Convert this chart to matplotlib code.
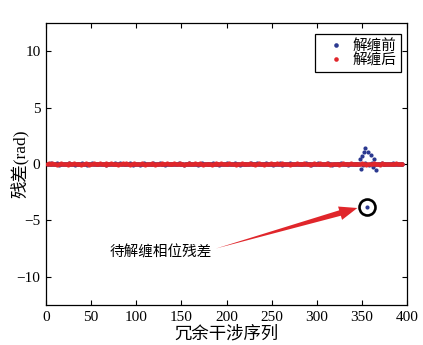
import numpy as np
import matplotlib
matplotlib.use("Agg")
import matplotlib.pyplot as plt

# residuals in units of 0.01 rad, index 1..395
red_res = [
    3,-2,5,1,-4,0,6,-3,2,-1,4,-5,1,3,-2,0,5,-4,2,-1,
    -3,4,1,-5,2,6,-1,0,3,-4,5,-2,1,-3,4,0,-1,2,-5,3,
    1,-4,3,5,-2,0,2,-6,4,1,-3,2,5,-1,0,-4,3,1,-2,6,
    -1,2,-3,4,0,5,-5,1,3,-2,-4,6,0,2,-1,3,-3,4,1,-5,
    2,0,-4,3,6,-2,1,-1,5,-3,0,4,-5,2,3,-1,-2,5,1,-4,
    4,-3,1,0,-2,5,3,-4,2,-6,1,3,-1,4,0,-2,5,-3,2,1,
    -5,3,2,-1,4,0,-3,6,1,-2,3,-4,2,5,-1,0,-3,4,2,-2,
    0,5,-2,3,-4,1,2,-1,6,-3,4,0,-5,2,1,-2,3,-1,5,-4,
    3,-1,-4,2,5,0,-2,4,1,-3,6,-1,2,-5,3,0,4,-2,1,-3,
    -2,4,3,-5,1,2,-1,5,0,-4,3,1,-3,6,-2,0,2,-1,4,-3,
    1,-3,5,0,-2,4,-4,2,3,-1,-5,3,1,4,-2,0,5,-3,2,-1,
    -4,2,0,3,-1,6,-2,1,-3,4,2,-5,0,3,-1,5,-2,1,-4,3,
    2,-5,4,1,-2,3,0,-3,5,-1,2,4,-4,1,-2,6,0,-1,3,-3,
    5,-1,2,-4,3,0,-2,4,1,-5,3,2,-1,0,4,-3,1,6,-2,-1,
    -3,1,4,-2,0,5,-4,2,3,-1,1,-5,4,0,-2,3,5,-3,1,2,
    0,-2,3,5,-3,1,-1,4,-4,2,6,-2,0,3,-5,1,2,-1,4,-3,
    4,1,-3,2,-5,3,0,-1,5,-2,1,4,-4,2,0,-3,3,6,-1,2,
    -2,3,1,-4,4,0,-1,2,-3,5,1,-2,3,0,-5,4,2,-1,3,-4,
    1,-1,5,-3,2,4,-2,0,3,-5,1,6,-1,2,-4,3,0,-2,4,1,
    -3,2,0,4,-1,3,-4,5,1,-2,2,-3,4,0,-1,
]

blue_res = [
    -2,4,0,-3,5,1,-4,2,3,-1,0,5,-2,-5,3,1,-3,4,-1,2,
    3,-1,-4,2,0,6,-2,1,-3,4,2,-5,1,3,-2,0,4,-1,-3,5,
    0,3,-2,1,-5,4,2,-1,3,-3,5,0,-4,2,1,-2,3,-1,4,-4,
    2,-3,4,0,-1,3,-5,2,1,-2,4,-1,3,-4,0,5,-2,1,2,-3,
    -1,5,-2,3,1,-4,0,4,-3,2,-1,3,5,-2,0,-5,1,4,-1,2,
    4,-2,1,-5,3,0,2,-3,5,-1,-4,2,0,3,-2,4,1,-3,6,-1,
    1,-4,3,2,-1,5,-3,0,4,-2,3,-5,1,2,-1,4,-2,0,3,-3,
    -3,2,-1,4,0,-2,5,-4,1,3,-1,2,-5,4,0,1,-3,5,-2,2,
    2,0,4,-3,1,-1,3,-5,2,4,-2,0,5,-1,-3,2,1,-4,3,-1,
    -4,3,1,-2,5,0,-1,2,-3,4,1,-5,3,-2,0,4,-1,2,-3,5,
    0,-2,3,4,-4,1,2,-1,5,-3,0,3,-2,1,-5,4,2,-1,0,3,
    3,1,-3,0,2,-4,5,-1,1,-2,4,0,-3,5,-1,2,-4,3,1,-2,
    -1,4,-2,5,-3,2,0,-4,3,1,-1,-5,4,0,2,-2,3,-3,5,1,
    2,-5,1,3,-1,4,-2,0,-3,5,2,-1,4,-4,1,3,-2,0,-1,4,
    -2,3,0,-4,2,1,-3,5,-1,0,4,-2,2,-5,3,1,-1,4,-3,0,
    5,-1,2,-3,4,0,-2,1,3,-4,-1,5,0,2,-3,4,-5,1,3,-2,
    0,3,-4,2,1,-2,5,-1,3,-3,4,0,-2,1,-5,3,2,-1,4,-3,
    2,-1,3,-4,0,4,-3,45,-45,75,-10,110,5,140,-3,-380,110,-5,0,80,
    10,-30,45,2,-3,-55,3,4,1,-3,0,5,-1,2,-4,3,1,-2,0,4,
    -3,2,-1,5,0,-2,3,-4,1,2,-1,4,-3,0,2,
]

outlier_idx = 356          # circled unwrapping residual
label_before = "解缠前"
label_after = "解缠后"
xlabel = "冗余干涉序列"
ylabel = "残差(rad)"
note = "待解缠相位残差"
xticks = [0, 50, 100, 150, 200, 250, 300, 350, 400]
yticks = [-10, -5, 0, 5, 10]

red = np.array(red_res) / 100.0
blue = np.array(blue_res) / 100.0
x_red = np.arange(1, len(red) + 1)
x_blue = np.arange(1, len(blue) + 1)

FAM = ["Liberation Serif", "Noto Sans CJK SC"]
plt.rcParams["font.family"] = FAM
plt.rcParams["axes.unicode_minus"] = True

fig = plt.figure(figsize=(4.23, 3.45), dpi=100)
ax = fig.add_axes([46/423, 1-305/345, (407-46)/423, (305-23)/345])

BLUE = "#2b3990"
RED = "#e0262b"
ax.plot(x_blue, blue, "o", ms=3.0, color=BLUE, mec="none", label=label_before, zorder=2)
ax.plot(x_red, red, "o", ms=3.0, color=RED, mec="none", label=label_after, zorder=3)

# circle around outlier
ax.plot([outlier_idx], [blue[outlier_idx - 1]], "o", ms=11.5, mfc="none", mec="black",
        mew=1.9, zorder=4)

# annotation text
ax.text(71, -7.8, note, fontsize=10.5, ha="left", va="center")
# tapered arrow shaft (thin at the text, wide at the head)
ax.annotate("", xy=(188, -7.5), xytext=(330, -4.25), xycoords="data", textcoords="data",
            arrowprops=dict(arrowstyle="wedge,tail_width=0.42,shrink_factor=0.5",
                            color=RED, shrinkA=0, shrinkB=0, lw=0))
# arrow head
ax.annotate("", xy=(345, -3.9), xytext=(318, -4.55), xycoords="data", textcoords="data",
            arrowprops=dict(arrowstyle="simple,head_length=1.3,head_width=1.0,tail_width=0.01",
                            color=RED, shrinkA=0, shrinkB=0, lw=0))

ax.set_xlim(0, 400)
ax.set_ylim(-12.5, 12.5)
ax.set_xticks(xticks)
ax.set_yticks(yticks)
ax.tick_params(direction="in", length=3.5, width=0.8, top=True, right=True, labelsize=11, pad=4)
for s in ax.spines.values():
    s.set_linewidth(0.9)

ax.set_xlabel(xlabel, fontsize=12.5, labelpad=2)
ax.set_ylabel(ylabel, fontsize=12.5)
ax.yaxis.set_label_coords(-0.048, 0.5)

leg = ax.legend(loc="upper right", bbox_to_anchor=(0.983, 0.96), fontsize=10.5, markerscale=1.1,
                handlelength=2.3, handletextpad=0.0, borderpad=0.3, labelspacing=0.0,
                borderaxespad=0.0,
                fancybox=False, framealpha=1, edgecolor="black")
leg.get_frame().set_linewidth(0.9)

fig.savefig("out.png", dpi=100)
